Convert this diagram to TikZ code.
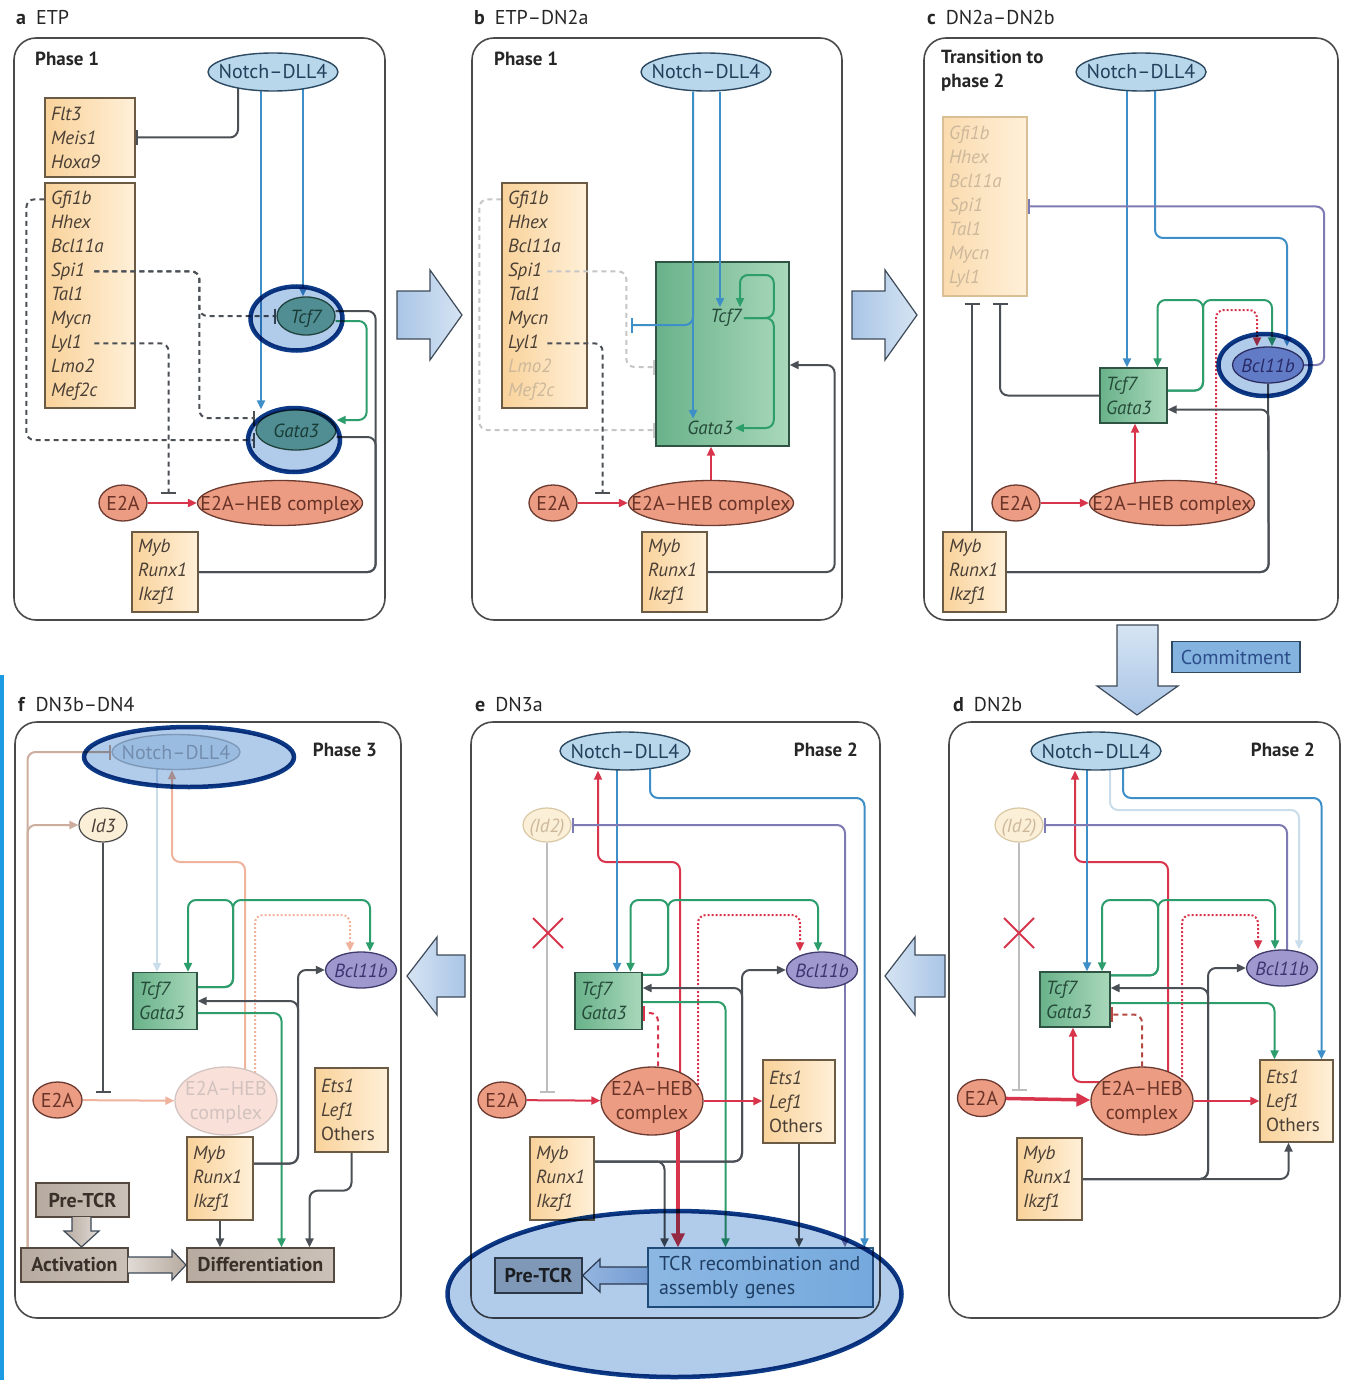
\documentclass[tikz,border=0pt]{standalone}
\usepackage{fontspec}
\setmainfont{PT Sans}
\usetikzlibrary{arrows.meta, backgrounds, shapes.geometric, shapes.misc}

\definecolor{frameln}{HTML}{4A4A4A}
\definecolor{tagtext}{HTML}{262626}
\definecolor{geneL}{HTML}{F9D29A}
\definecolor{geneR}{HTML}{FFF0D8}
\definecolor{geneln}{HTML}{6B5A44}
\definecolor{genetext}{HTML}{4A3F36}
\definecolor{fadetext}{HTML}{CDB89B}
\definecolor{fadeln}{HTML}{D9BE96}
\definecolor{notchfill}{HTML}{B8D7EA}
\definecolor{notchln}{HTML}{2E4A63}
\definecolor{notchtext}{HTML}{22405C}
\definecolor{tfL}{HTML}{69B28A}
\definecolor{tfR}{HTML}{A9D8BA}
\definecolor{tfln}{HTML}{2F5443}
\definecolor{tftext}{HTML}{254A3A}
\definecolor{tealfill}{HTML}{74B3A1}
\definecolor{e2afill}{HTML}{EC9C82}
\definecolor{e2aln}{HTML}{6B3A30}
\definecolor{e2atext}{HTML}{6A3328}
\definecolor{bclfill}{HTML}{9E98CF}
\definecolor{bclln}{HTML}{3F3B6B}
\definecolor{bcltext}{HTML}{3A3570}
\definecolor{bcldeep}{HTML}{8E9BD8}
\definecolor{idfill}{HTML}{FBEFD7}
\definecolor{idln}{HTML}{D9C8A6}
\definecolor{lnBlue}{HTML}{3E8FC7}
\definecolor{lnGreen}{HTML}{2E9D6C}
\definecolor{lnRed}{HTML}{D8354C}
\definecolor{lnDark}{HTML}{4A5056}
\definecolor{lnPurple}{HTML}{7E7AB3}
\definecolor{lnGrey}{HTML}{BDBDBD}
\definecolor{lnPale}{HTML}{C9DDEB}
\definecolor{lnTan}{HTML}{CDAE9E}
\definecolor{lnSalmon}{HTML}{F0B39E}
\definecolor{lnFade}{HTML}{C6C6C6}
\definecolor{lnBrick}{HTML}{B4473F}
\definecolor{hifill}{HTML}{B1CBEA}
\definecolor{hiln}{HTML}{0C3A86}
\definecolor{bigL}{HTML}{A9C5E6}
\definecolor{bigR}{HTML}{D6E4F3}
\definecolor{bigln}{HTML}{3E4A58}
\definecolor{tcrL}{HTML}{CBE7F8}
\definecolor{tcrR}{HTML}{A9D5F2}
\definecolor{tcrln}{HTML}{2E5D84}
\definecolor{tcrtext}{HTML}{2D4F6E}
\definecolor{pregrey}{HTML}{B7C0C8}
\definecolor{pregreyln}{HTML}{3F464D}
\definecolor{stageL}{HTML}{B7ABA0}
\definecolor{stageR}{HTML}{CBC1B8}
\definecolor{stageln}{HTML}{54483F}
\definecolor{stagetext}{HTML}{3A302A}
\definecolor{commitfill}{HTML}{84B3E0}
\definecolor{committext}{HTML}{2C4D8A}
\definecolor{edgeblue}{HTML}{1D9BE2}

\newcommand{\lblfont}{\fontsize{20}{24}\selectfont}
\newcommand{\phasefont}{\fontsize{19}{24}\selectfont\bfseries}
\newcommand{\genefont}{\fontsize{19}{24}\selectfont\itshape}
% ellipse labels may stick out of the shape, as in print
\newcommand{\snug}[1]{\makebox[0pt]{#1}}
\newcommand{\pairlines}[2]{\snug{\begin{tabular}{@{}c@{}}#1\\#2\end{tabular}}}

\tikzset{
  panel/.style={draw=frameln, line width=1.6pt, rounded corners=22pt},
  tag/.style={anchor=west, inner sep=0pt, font=\lblfont, text=tagtext},
  phase/.style={inner sep=0pt, font=\phasefont, text=tagtext, align=left},
  notch/.style={ellipse, draw=notchln, line width=1.4pt, fill=notchfill, minimum width=130pt, minimum height=38pt, inner sep=0pt, text height=14pt, text depth=0pt, font=\lblfont, text=notchtext},
  genes/.style 2 args={draw=geneln, line width=1.3pt, left color=geneL, right color=geneR, text width=#1, minimum height=#2, inner xsep=6pt, inner ysep=0pt, align=left, font=\genefont, text=genetext},
  tfbox/.style 2 args={draw=tfln, line width=1.3pt, left color=tfL, right color=tfR, text width=#1, minimum height=#2, inner xsep=6pt, inner ysep=0pt, align=left, font=\genefont, text=tftext},
  tfegg/.style={ellipse, draw=tfln, line width=1.3pt, fill=tealfill, inner sep=0pt, text height=14pt, text depth=0pt, font=\genefont, text=tftext},
  egg/.style={ellipse, draw=e2aln, line width=1.3pt, fill=e2afill, inner sep=0pt, text height=14pt, text depth=0pt, font=\lblfont, text=e2atext},
  bcl/.style={ellipse, draw=bclln, line width=1.3pt, fill=bclfill, minimum width=71pt, minimum height=36pt, inner sep=0pt, text height=14pt, text depth=0pt, font=\genefont, text=bcltext},
  idegg/.style={ellipse, draw=idln, line width=1.2pt, fill=idfill, minimum width=48pt, minimum height=34pt, inner sep=0pt, text height=14pt, text depth=0pt, font=\genefont, text=fadetext},
  stage/.style={draw=stageln, line width=1.3pt, left color=stageL, right color=stageR, inner sep=0pt, font=\lblfont\bfseries, text=stagetext},
  block/.style={cross out, draw=lnRed, line width=2pt, minimum size=28pt, inner sep=0pt},
  act/.style={line width=2pt, rounded corners=8pt, -{Triangle[length=9pt,width=8pt]}},
  inh/.style={line width=2pt, rounded corners=8pt, -{Bar[width=15pt,line width=2pt]}},
  link/.style={line width=2pt, rounded corners=8pt},
  inhd/.style={inh, dash pattern=on 5pt off 4pt},
  actd/.style={act, dash pattern=on 2pt off 2pt},
  bigarrow/.style={draw=bigln, line width=1.2pt, left color=bigL, right color=bigR},
  hilite/.style={draw=hiln, line width=4.5pt, fill=hifill, blend mode=multiply}
}

\begin{document}
\begin{tikzpicture}[x=1pt, y=-1pt]
\useasboundingbox (0,0) rectangle (1345,1380);
\begin{scope}[on background layer]
  \fill[white] (0,0) rectangle (1345,1380);
\end{scope}
\fill[edgeblue] (0,675) rectangle (4,1380);

% ---------------- a: ETP
\draw[panel] (14,38) rectangle (385,620);
\node[tag] (aTag) at (16,18) {\textbf{a}\enspace ETP};
\node[phase, anchor=west] (aPhase) at (35,59) {Phase 1};
\node[notch] (aNotch) at (273,72) {\snug{Notch--DLL4}};
\node[genes={78pt}{79pt}] (aFlt) at (90,137.5) {Flt3\\Meis1\\Hoxa9};
\node[genes={78pt}{225pt}] (aGfi) at (90,295.5) {Gfi1b\\Hhex\\Bcl11a\\Spi1\\Tal1\\Mycn\\Lyl1\\Lmo2\\Mef2c};
\node[tfegg, minimum width=58pt, minimum height=38pt] (aTcf) at (306,316) {\snug{Tcf7}};
\node[tfegg, minimum width=80pt, minimum height=40pt] (aGata) at (296,430) {\snug{Gata3}};
\node[egg, minimum width=48pt, minimum height=36pt] (aE2A) at (123,503) {\snug{E2A}};
\node[egg, minimum width=165pt, minimum height=45pt] (aHEB) at (280,503) {\snug{E2A--HEB complex}};
\node[genes={54pt}{80pt}] (aMyb) at (165,572) {Myb\\Runx1\\Ikzf1};
\coordinate (aSpi) at ([xshift=50pt,yshift=-89pt]aGfi.north west);
\coordinate (aLyl) at ([xshift=50pt,yshift=-161pt]aGfi.north west);
\coordinate (aLink) at ([xshift=21pt,yshift=9pt]aE2A.east);

\begin{scope}[on background layer]
\draw[inh, lnDark] (aNotch.center -| 238,0) |- (aFlt.east);
\draw[act, lnBlue] (aNotch.center -| 261,0) -- (aGata.north -| 261,0);
\draw[act, lnBlue] (aNotch.center -| 303,0) -- (aTcf.north -| 303,0);
\draw[inhd, lnDark] ([yshift=-17pt]aGfi.north west) -- ++(-18,0) |- ([yshift=-10pt]aGata.west);
\draw[act, lnGreen] ([yshift=-5pt]aTcf.east) -- ++(31,0) |- ([yshift=10pt]aGata.east);
\draw[link, lnDark] (aMyb.east) -- ++(177,0) |- ([yshift=5pt]aTcf.east);
\draw[link, lnDark] (aMyb.east) -- ++(177,0) |- ([yshift=-7pt]aGata.east);
\draw[act, lnRed] (aE2A) -- (aHEB);
\end{scope}
\draw[inhd, lnDark] (aSpi) -- ++(105,0) |- (aTcf.west);
\draw[inhd, lnDark] (aSpi) -- ++(105,0) |- ([yshift=12pt]aGata.west);
\draw[inhd, lnDark] (aLyl) -| (aLink);

% ---------------- b: ETP-DN2a
\draw[panel] (472,38) rectangle (842,620);
\node[tag] (bTag) at (474,18) {\textbf{b}\enspace ETP--DN2a};
\node[phase, anchor=west] (bPhase) at (494,59) {Phase 1};
\node[notch] (bNotch) at (706,72) {\snug{Notch--DLL4}};
\node[genes={73pt}{225pt}] (bGfi) at (544.5,295.5) {Gfi1b\\Hhex\\Bcl11a\\Spi1\\Tal1\\Mycn\\Lyl1\\\textcolor{fadetext}{Lmo2}\\\textcolor{fadetext}{Mef2c}};
\node[tfbox={121pt}{184pt}] (bCore) at (722.5,354) {};
\node[font=\genefont, text=tftext, inner sep=2pt] (bTcf) at (726,318) {Tcf7};
\node[font=\genefont, text=tftext, inner sep=2pt] (bGata) at (710,428) {Gata3};
\node[egg, minimum width=48pt, minimum height=36pt] (bE2A) at (553,503) {\snug{E2A}};
\node[egg, minimum width=165pt, minimum height=45pt] (bHEB) at (711,503) {\snug{E2A--HEB complex}};
\node[genes={53pt}{80pt}] (bMyb) at (674.5,572) {Myb\\Runx1\\Ikzf1};
\coordinate (bStop) at (631,325);

\begin{scope}[on background layer]
\draw[inhd, lnFade] ([yshift=-17pt]bGfi.north west) -- ++(-22,0) |- ([yshift=-76pt]bCore.west);
\draw[act, lnRed] (bE2A) -- (bHEB);
\draw[act, lnRed] (bHEB.north) -- (bHEB.north |- bCore.south);
\draw[act, lnDark] (bMyb.east) -- ++(127,0) |- ([yshift=-11pt]bCore.east);
\end{scope}
\draw[inhd, lnFade] ([xshift=46pt,yshift=-89pt]bGfi.north west) -- ++(79,0) |- ([yshift=-13pt]bCore.west);
\draw[inhd, lnDark] ([xshift=46pt,yshift=-161pt]bGfi.north west) -| ([xshift=25pt,yshift=9pt]bE2A.east);
\draw[act, lnBlue] (bNotch.south -| 693,0) -- (bGata.north -| 693,0);
\draw[inh, lnBlue] (bNotch.south -| 693,0) |- (bStop);
\draw[act, lnBlue] (bNotch.south -| 720,0) -- (bTcf.north -| 720,0);
\draw[act, lnGreen] (bTcf.east) -| ++(30,-43) -| ([xshift=14pt]bTcf.north);
\draw[act, lnGreen] (bTcf.east) -- ++(30,0) |- (bGata.east);

% ---------------- c: DN2a-DN2b
\draw[panel] (924,38) rectangle (1338,620);
\node[tag] (cTag) at (927,18) {\textbf{c}\enspace DN2a--DN2b};
\node[phase, anchor=west] (cPhase) at (941,71) {Transition to\\phase 2};
\node[notch] (cNotch) at (1141,72) {\snug{Notch--DLL4}};
\node[genes={72pt}{179pt}, draw=fadeln, left color=geneL!80, right color=geneR, text=fadetext] (cGfi) at (985,206.5) {Gfi1b\\Hhex\\Bcl11a\\Spi1\\Tal1\\Mycn\\Lyl1};
\node[tfbox={55pt}{55pt}] (cCore) at (1133.5,395.5) {Tcf7\\Gata3};
\node[bcl, fill=bcldeep] (cBcl) at (1268,365) {\snug{Bcl11b}};
\node[egg, minimum width=48pt, minimum height=36pt] (cE2A) at (1016,503) {\snug{E2A}};
\node[egg, minimum width=165pt, minimum height=45pt] (cHEB) at (1172,503) {\snug{E2A--HEB complex}};
\node[genes={51pt}{80pt}] (cMyb) at (974.5,572) {Myb\\Runx1\\Ikzf1};

\begin{scope}[on background layer]
\draw[act, lnBlue] (cNotch.center -| 1127,0) -- (cCore.north -| 1127,0);
\draw[act, lnBlue] (cNotch.center -| 1155,0) |- (1230,238) -| ([xshift=19pt]cBcl.north);
\draw[inh, lnPurple] (cBcl.east) -- ++(20,0) |- (cGfi.east);
\draw[act, lnGreen] ([yshift=5pt]cCore.east) -| (1203,300) -| ([xshift=24pt]cCore.north);
\draw[act, lnGreen] ([yshift=5pt]cCore.east) -| (1203,300) -| ([xshift=4pt]cBcl.north);
\draw[actd, lnRed] ([xshift=44pt]cHEB.center) -- ++(0,-193) -| ([xshift=-11pt]cBcl.north);
\draw[inh, lnDark] (cCore.west) -| ([xshift=15pt,yshift=-6pt]cGfi.south);
\draw[inh, lnDark] (cMyb.north -| 972,0) -- ([yshift=-6pt]cGfi.south -| 972,0);
\draw[act, lnRed] (cE2A) -- (cHEB);
\draw[act, lnRed] (cHEB.center -| 1135,0) -- (cCore.south -| 1135,0);
\draw[act, lnDark] (cMyb.east) -- ++(262,0) |- ([yshift=-14pt]cCore.east);
\draw[link, lnDark] (cMyb.east) -- ++(262,0) -- (cBcl.south);
\end{scope}

% commitment step
\draw[bigarrow, top color=bigR, bottom color=bigL] (1117,625) -- (1158,625) -- (1158,686) -- (1178,686) -- (1137,715) -- (1097,686) -- (1117,686) -- cycle;
\node[draw=notchln, line width=1.3pt, fill=commitfill, minimum width=128pt, minimum height=31pt, inner sep=0pt, font=\lblfont, text=committext] (cCommit) at (1236,657) {Commitment};

% ---------------- d: DN2b
\draw[panel] (949,722) rectangle (1340,1318);
\node[tag] (dTag) at (953,705) {\textbf{d}\enspace DN2b};
\node[phase, anchor=east] (dPhase) at (1315,750) {Phase 2};
\node[notch] (dNotch) at (1096,751) {\snug{Notch--DLL4}};
\node[idegg] (dId) at (1019,825) {\snug{(Id2)}};
\node[tfbox={58pt}{55pt}] (dCore) at (1075,999.5) {Tcf7\\Gata3};
\node[bcl] (dBcl) at (1282,968) {\snug{Bcl11b}};
\node[egg, minimum width=48pt, minimum height=37pt] (dE2A) at (981.5,1098) {\snug{E2A}};
\node[egg, minimum width=102pt, minimum height=68pt] (dHEB) at (1142,1101) {\pairlines{E2A--HEB}{complex}};
\node[genes={61pt}{82pt}] (dEts) at (1296.5,1101) {Ets1\\Lef1\\\upshape Others};
\node[genes={53pt}{82pt}] (dMyb) at (1049.5,1179) {Myb\\Runx1\\Ikzf1};

\begin{scope}[on background layer]
\draw[act, lnRed] (dHEB.center -| 1168,0) |- (1120,862) -| (dNotch.south -| 1075,0);
\draw[act, lnBlue] (dNotch.center -| 1087,0) -- (dCore.north -| 1087,0);
\draw[act, lnPale] (dNotch.center -| 1110,0) |- (1200,810) -| ([xshift=17pt]dBcl.north);
\draw[act, lnBlue] (dNotch.center -| 1123,0) |- (1200,798) -| ([xshift=25pt]dEts.north);
\draw[inh, lnPurple] (dBcl.center -| 1287,0) |- (dId.east);
\draw[inh, lnGrey] (dId.south) -- ([yshift=7pt]dId.south |- dE2A.east);
\draw[act, lnGreen] ([yshift=-4pt]dCore.north east) -| (1158,900) -| ([xshift=27pt]dCore.north);
\draw[act, lnGreen] ([yshift=-4pt]dCore.north east) -| (1158,900) -| ([xshift=-7pt]dBcl.north);
\draw[act, lnGreen] ([yshift=-3.5pt]dCore.east) -| ([xshift=-22pt]dEts.north);
\draw[actd, lnRed] ([xshift=40pt]dHEB.center) -- ++(0,-186) -| ([xshift=-24pt]dBcl.north);
\draw[act, lnDark] (dMyb.east) -| ([xshift=-8pt]dEts.south);
\draw[act, lnDark] (dMyb.east) -| (1208,968) -- (dBcl.west);
\draw[act, lnDark] (dMyb.east) -| (1208,988) -- ([yshift=11.5pt]dCore.east);
\draw[inhd, lnBrick] (dHEB.north) |- ([yshift=-15pt]dCore.east);
\draw[lnRed, line width=3.5pt, -{Triangle[length=14pt,width=13pt]}] (dE2A) -- (dHEB);
\draw[act, lnRed] ([yshift=19pt]dHEB.center) -| ([xshift=-2pt]dCore.south);
\draw[act, lnRed] (dHEB.east) -- (dEts.west |- dHEB.east);
\end{scope}
\node[block] (dBlock) at (1019,933) {};

% ---------------- e: DN3a
\draw[panel] (471,722) rectangle (880,1318);
\node[tag] (eTag) at (475,705) {\textbf{e}\enspace DN3a};
\node[phase, anchor=east] (ePhase) at (858,750) {Phase 2};
\node[notch] (eNotch) at (625,751) {\snug{Notch--DLL4}};
\node[idegg] (eId) at (547,825) {\snug{(Id2)}};
\node[tfbox={55pt}{57pt}] (eCore) at (608.5,1001) {Tcf7\\Gata3};
\node[bcl] (eBcl) at (822,970) {\snug{Bcl11b}};
\node[egg, minimum width=48pt, minimum height=36pt] (eE2A) at (502,1100) {\snug{E2A}};
\node[egg, minimum width=102pt, minimum height=68pt] (eHEB) at (652,1101) {\pairlines{E2A--HEB}{complex}};
\node[genes={60pt}{83pt}] (eEts) at (799,1101.5) {Ets1\\Lef1\\\upshape Others};
\node[genes={52pt}{83pt}] (eMyb) at (562,1178.5) {Myb\\Runx1\\Ikzf1};
\node[draw=tcrln, line width=1.3pt, left color=tcrL, right color=tcrR, minimum height=59pt, text width=203pt, inner xsep=11pt, inner ysep=0pt, align=left, font=\lblfont, text=tcrtext] (eTCR) at (760.5,1277.5) {TCR recombination and\\assembly genes};
\node[draw=pregreyln, line width=1.3pt, fill=pregrey, minimum width=87pt, minimum height=35pt, inner sep=0pt, font=\lblfont\bfseries, text=tagtext] (ePre) at (538.5,1275.5) {Pre-TCR};

\begin{scope}[on background layer]
\draw[act, lnRed] (eHEB.center -| 680,0) |- (640,862) -| (eNotch.south -| 598,0);
\draw[act, lnBlue] (eNotch.center -| 617,0) -- (eCore.north -| 617,0);
\draw[act, lnBlue] (eNotch.center -| 650,0) |- (760,798) -| ([xshift=104pt]eTCR.north);
\draw[inh, lnPurple] (eBcl.center -| 845,0) |- (eId.east);
\draw[act, lnPurple] (eBcl.center -| 845,0) -- (eTCR.north -| 845,0);
\draw[inh, lnGrey] (eId.south) -- ([yshift=7pt]eId.south |- eE2A.east);
\draw[act, lnGreen] ([yshift=-3pt]eCore.north east) -| (668,900) -| ([xshift=22pt]eCore.north);
\draw[act, lnGreen] ([yshift=-3pt]eCore.north east) -| (668,900) -| ([xshift=-4pt]eBcl.north);
\draw[act, lnGreen] ([yshift=-1pt]eCore.east) -| ([xshift=-35pt]eTCR.north);
\draw[actd, lnRed] ([xshift=46pt]eHEB.center) -- ++(0,-186) -| ([xshift=-22pt]eBcl.north);
\draw[act, lnDark] ([yshift=17pt]eMyb.east) -| ([xshift=-96pt]eTCR.north);
\draw[act, lnDark] ([yshift=17pt]eMyb.east) -- (742,1161.5) |- (eBcl.west);
\draw[act, lnDark] ([yshift=17pt]eMyb.east) -- (742,1161.5) |- ([yshift=13pt]eCore.east);
\draw[inhd, lnRed] ([xshift=6pt]eHEB.north) |- ([yshift=-12pt]eCore.east);
\draw[act, lnRed] (eE2A) -- (eHEB);
\draw[act, lnRed] (eHEB.east) -- (eEts.west |- eHEB.east);
\draw[lnRed, line width=3.5pt, -{Triangle[length=14pt,width=13pt]}] (eHEB.center -| 678,0) -- (eTCR.north -| 678,0);
\draw[act, lnDark] (eEts.south) -- (eTCR.north -| eEts.south);
\end{scope}
\node[block] (eBlock) at (548,933) {};
% pre-TCR assembly
\draw[bigarrow, left color=bigR, right color=bigL] (eTCR.west |- 0,1267) -- (600,1267) -- (600,1259) -- (ePre.east) -- (600,1292) -- (600,1284) -- (eTCR.west |- 0,1284);

% ---------------- f: DN3b-DN4
\draw[panel] (15,722) rectangle (401,1318);
\node[tag] (fTag) at (18,705) {\textbf{f}\enspace DN3b--DN4};
\node[phase, anchor=east] (fPhase) at (377,750) {Phase 3};
\node[notch, fill=notchfill!45, draw=notchln!35, text=notchtext!40, minimum width=128pt, minimum height=35pt] (fNotch) at (176,752) {\snug{Notch--DLL4}};
\node[idegg, draw=frameln, fill=idfill, text=genetext] (fId) at (103,825) {\snug{Id3}};
\node[tfbox={52pt}{57pt}] (fCore) at (165,1001) {Tcf7\\Gata3};
\node[bcl] (fBcl) at (361,970) {\snug{Bcl11b}};
\node[egg, minimum width=49pt, minimum height=36pt] (fE2A) at (57.5,1100) {\snug{E2A}};
\node[egg, minimum width=102pt, minimum height=68pt, fill=e2afill!30, draw=e2aln!30, text=e2atext!30] (fHEB) at (226,1101) {\pairlines{E2A--HEB}{complex}};
\node[genes={61pt}{84pt}] (fEts) at (351.5,1110) {Ets1\\Lef1\\\upshape Others};
\node[genes={54pt}{83pt}] (fMyb) at (220,1178.5) {Myb\\Runx1\\Ikzf1};
\node[stage, minimum width=93pt, minimum height=34pt] (fPre) at (82.5,1200) {Pre-TCR};
\node[stage, minimum width=107pt, minimum height=34pt] (fAct) at (74.5,1265) {Activation};
\node[stage, minimum width=147pt, minimum height=34pt] (fDiff) at (260.5,1265) {Differentiation};

\begin{scope}[on background layer]
\draw[inh, lnTan] ([xshift=-47pt]fAct.north) |- (fNotch.west);
\draw[act, lnTan] ([xshift=-47pt]fAct.north) |- (fId.west);
\draw[act, lnPale] (fNotch.center -| 157,0) -- (fCore.north -| 157,0);
\draw[act, lnSalmon] (fHEB.center -| 245,0) |- (200,862) -| (fNotch.south -| 172,0);
\draw[actd, lnSalmon] (fHEB.center -| 255,0) |- (300,915) -| ([xshift=-11pt]fBcl.north);
\draw[act, lnGreen] ([yshift=14pt]fCore.east) -| (233,900) -| ([xshift=23pt]fCore.north);
\draw[act, lnGreen] ([yshift=14pt]fCore.east) -| (233,900) -| ([xshift=9pt]fBcl.north);
\draw[act, lnGreen] ([yshift=-12pt]fCore.east) -| ([xshift=21pt]fDiff.north);
\draw[act, lnDark] ([yshift=15pt]fMyb.east) -- (298,1163.5) |- (fBcl.west);
\draw[act, lnDark] ([yshift=15pt]fMyb.east) -- (298,1163.5) |- (fCore.east);
\draw[act, lnDark] (fMyb.south) -- (fMyb.south |- fDiff.north);
\draw[act, lnDark] (fEts.south) -- ++(0,38) -| ([xshift=49pt]fDiff.north);
\draw[inh, lnDark] (fId.south) -- ([yshift=7pt]fId.south |- fE2A.east);
\draw[act, lnSalmon] (fE2A) -- (fHEB);
\end{scope}
% pre-TCR signalling
\draw[bigarrow, left color=stageL, right color=stageR!60] (72,1217) -- (72,1231) -- (64,1231) -- (81.5,1247) -- (99,1231) -- (91,1231) -- (91,1217);
\draw[bigarrow, left color=stageR!60, right color=stageL] (128,1257) -- (172,1257) -- (172,1250) -- (186,1265) -- (172,1280) -- (172,1273) -- (128,1273);

% ---------------- stage-to-stage arrows
\draw[bigarrow] (397,291) -- (430,291) -- (430,270) -- (462,315) -- (430,360) -- (430,339) -- (397,339) -- cycle;
\draw[bigarrow] (852,291) -- (885,291) -- (885,270) -- (917,315) -- (885,360) -- (885,339) -- (852,339) -- cycle;
\draw[bigarrow, left color=bigR, right color=bigL] (945,955) -- (915,955) -- (915,937) -- (885,976) -- (915,1015) -- (915,997) -- (945,997) -- cycle;
\draw[bigarrow, left color=bigR, right color=bigL] (465,955) -- (437,955) -- (437,937) -- (407,976) -- (437,1015) -- (437,997) -- (465,997) -- cycle;

% ---------------- marked regions
\draw[hilite] (296.5,318.5) ellipse [x radius=46pt, y radius=32pt];
\draw[hilite] (294,440) ellipse [x radius=46pt, y radius=32pt];
\draw[hilite] (1264.5,365) ellipse [x radius=46pt, y radius=31pt];
\draw[hilite] (189,757) ellipse [x radius=105pt, y radius=30pt];
\draw[hilite] (674.5,1294) ellipse [x radius=227pt, y radius=83pt];
\end{tikzpicture}
\end{document}
